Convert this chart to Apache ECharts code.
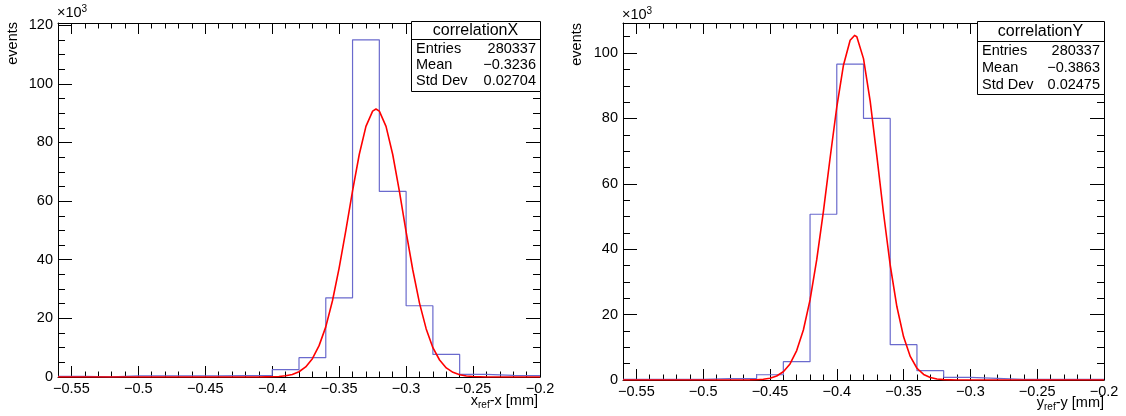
<!DOCTYPE html>
<html>
<head>
<meta charset="utf-8">
<script src="https://cdn.jsdelivr.net/npm/echarts@6/dist/echarts.min.js"></script>
<style>
html,body{margin:0;padding:0;background:#fff;}
#c{width:1126px;height:416px;}
</style>
</head>
<body>
<div id="c"></div>
<script>
// ---- data (counts in units of 10^3 events) ----
const binEdges = [-0.56,-0.54,-0.52,-0.50,-0.48,-0.46,-0.44,-0.42,-0.40,-0.38,-0.36,-0.34,-0.32,-0.30,-0.28,-0.26,-0.24,-0.22,-0.20];
const countsX = [0.2,0.05,0.35,0.35,0.35,0.35,0.45,0.5,2.5,6.6,27.0,115.0,63.3,24.3,7.7,0.9,0.57,0.5];
const countsY = [0.2,0.2,0.2,0.4,0.4,1.6,5.6,50.7,96.6,80.0,10.8,2.85,0.8,0.5,0.2,0.2,0.2,0.2];

// fitted curves
const fitXx = [-0.56,-0.41,-0.405,-0.40,-0.395,-0.39,-0.385,-0.38,-0.375,-0.37,-0.365,-0.36,-0.355,-0.35,-0.345,-0.34,-0.335,-0.33,-0.325,-0.3225,-0.32,-0.315,-0.31,-0.305,-0.30,-0.295,-0.29,-0.285,-0.28,-0.275,-0.27,-0.265,-0.26,-0.255,-0.25,-0.245,-0.24,-0.235,-0.20];
const fitXy = [0,0.01,0.03,0.07,0.18,0.40,0.88,1.79,3.44,6.24,10.7,17.1,26.0,37.2,50.0,63.5,75.9,85.5,90.7,91.4,90.7,85.5,75.9,63.3,49.5,36.5,25.2,16.4,10.0,5.8,3.1,1.6,0.78,0.35,0.15,0.06,0.02,0.01,0];
const fitYx = [-0.56,-0.465,-0.46,-0.455,-0.45,-0.445,-0.44,-0.435,-0.43,-0.425,-0.42,-0.415,-0.41,-0.405,-0.40,-0.395,-0.39,-0.3867,-0.385,-0.38,-0.375,-0.37,-0.365,-0.36,-0.355,-0.35,-0.345,-0.34,-0.335,-0.33,-0.325,-0.32,-0.315,-0.31,-0.20];
const fitYy = [0,0.03,0.09,0.23,0.54,1.21,2.51,4.9,9.0,15.3,24.5,36.8,51.6,67.9,83.5,96.3,103.9,105.4,105.0,98.3,85.3,68.5,51.0,35.1,22.4,13.2,7.2,3.6,1.7,0.74,0.30,0.11,0.04,0.01,0];

const xMajorTicks = [-0.55,-0.50,-0.45,-0.40,-0.35,-0.30,-0.25,-0.20];
const xMinorTicks = [-0.56,-0.55,-0.54,-0.53,-0.52,-0.51,-0.50,-0.49,-0.48,-0.47,-0.46,-0.45,-0.44,-0.43,-0.42,-0.41,-0.40,-0.39,-0.38,-0.37,-0.36,-0.35,-0.34,-0.33,-0.32,-0.31,-0.30,-0.29,-0.28,-0.27,-0.26,-0.25,-0.24,-0.23,-0.22,-0.21,-0.20];
const yMajorTicksX = [0,20,40,60,80,100,120];
const yMinorTicksX = [0,5,10,15,20,25,30,35,40,45,50,55,60,65,70,75,80,85,90,95,100,105,110,115,120];
const yMajorTicksY = [0,20,40,60,80,100];
const yMinorTicksY = [0,5,10,15,20,25,30,35,40,45,50,55,60,65,70,75,80,85,90,95,100,105];
const yMaxX = 120.75;
const yMaxY = 109.2;

const statsX = {title:'correlationX', rows:[['Entries','280337'],['Mean','\u22120.3236'],['Std Dev','0.02704']]};
const statsY = {title:'correlationY', rows:[['Entries','280337'],['Mean','\u22120.3863'],['Std Dev','0.02475']]};

// ---- build ----
const FONT = '"Liberation Sans", Arial, Helvetica, sans-serif';
const BLACK = '#000';
function fmtX(v){ return String(Math.round(v*100)/100).replace('-', '\u2212'); }
function histData(edges, counts){
  const d = [];
  for (let i = 0; i < counts.length; i++) d.push([edges[i], counts[i]]);
  d.push([edges[edges.length-1], counts[counts.length-1]]);
  return d;
}
function zip(a,b){ return a.map((v,i)=>[v,b[i]]); }

const grids = [
  {left:58, top:23, width:482, height:354},
  {left:623, top:23, width:481, height:357}
];
const yMajors = [yMajorTicksX, yMajorTicksY];
const yMinors = [yMinorTicksX, yMinorTicksY];
const yMaxs = [yMaxX, yMaxY];

const xAxes = [], yAxes = [];
grids.forEach((g, gi) => {
  const base = {gridIndex:gi, type:'value', min:-0.56, max:-0.2, splitLine:{show:false}};
  xAxes.push(Object.assign({}, base, {position:'bottom',
    axisLine:{show:true, onZero:false, lineStyle:{color:BLACK, width:1}},
    axisTick:{show:true, inside:true, length:11, customValues:xMajorTicks, lineStyle:{color:BLACK}},
    axisLabel:{show:true, customValues:xMajorTicks, formatter:fmtX, color:BLACK, fontSize:14.5, fontFamily:FONT, margin:4}}));
  xAxes.push(Object.assign({}, base, {position:'bottom',
    axisLine:{show:false, onZero:false},
    axisTick:{show:true, inside:true, length:5.5, customValues:xMinorTicks, lineStyle:{color:BLACK}},
    axisLabel:{show:false}}));
  xAxes.push(Object.assign({}, base, {position:'top',
    axisLine:{show:true, onZero:false, lineStyle:{color:BLACK, width:1}},
    axisTick:{show:true, inside:true, length:11, customValues:xMajorTicks, lineStyle:{color:BLACK}},
    axisLabel:{show:false}}));
  xAxes.push(Object.assign({}, base, {position:'top',
    axisLine:{show:false, onZero:false},
    axisTick:{show:true, inside:true, length:5.5, customValues:xMinorTicks, lineStyle:{color:BLACK}},
    axisLabel:{show:false}}));

  const yb = {gridIndex:gi, type:'value', min:0, max:yMaxs[gi], splitLine:{show:false}};
  yAxes.push(Object.assign({}, yb, {position:'left',
    axisLine:{show:true, onZero:false, lineStyle:{color:BLACK, width:1}},
    axisTick:{show:true, inside:true, length:14, customValues:yMajors[gi], lineStyle:{color:BLACK}},
    axisLabel:{show:true, customValues:yMajors[gi], color:BLACK, fontSize:14.5, fontFamily:FONT, margin:5}}));
  yAxes.push(Object.assign({}, yb, {position:'left',
    axisLine:{show:false, onZero:false},
    axisTick:{show:true, inside:true, length:7, customValues:yMinors[gi], lineStyle:{color:BLACK}},
    axisLabel:{show:false}}));
  yAxes.push(Object.assign({}, yb, {position:'right',
    axisLine:{show:true, onZero:false, lineStyle:{color:BLACK, width:1}},
    axisTick:{show:true, inside:true, length:14, customValues:yMajors[gi], lineStyle:{color:BLACK}},
    axisLabel:{show:false}}));
  yAxes.push(Object.assign({}, yb, {position:'right',
    axisLine:{show:false, onZero:false},
    axisTick:{show:true, inside:true, length:7, customValues:yMinors[gi], lineStyle:{color:BLACK}},
    axisLabel:{show:false}}));
});

const series = [
  {type:'line', xAxisIndex:0, yAxisIndex:0, step:'end', symbol:'none', data:histData(binEdges, countsX),
   lineStyle:{color:'#6a6acd', width:1.2}, silent:true, z:2},
  {type:'line', xAxisIndex:0, yAxisIndex:0, smooth:false, symbol:'none', data:zip(fitXx, fitXy),
   lineStyle:{color:'#ff0000', width:1.6, join:'round'}, silent:true, z:3},
  {type:'line', xAxisIndex:4, yAxisIndex:4, step:'end', symbol:'none', data:histData(binEdges, countsY),
   lineStyle:{color:'#6a6acd', width:1.2}, silent:true, z:2},
  {type:'line', xAxisIndex:4, yAxisIndex:4, smooth:false, symbol:'none', data:zip(fitYx, fitYy),
   lineStyle:{color:'#ff0000', width:1.6, join:'round'}, silent:true, z:3}
];

function statsBox(st, x0, x1, y0, ySep, y1, titleY, rowYs){
  const els = [];
  els.push({type:'rect', shape:{x:x0+0.5, y:y0+0.5, width:x1-x0, height:y1-y0}, style:{fill:'#fff', stroke:BLACK, lineWidth:1}, z:10});
  els.push({type:'line', shape:{x1:x0, y1:ySep+0.5, x2:x1, y2:ySep+0.5}, style:{stroke:BLACK, lineWidth:1}, z:11});
  els.push({type:'text', x:(x0+x1)/2, y:titleY, style:{text:st.title, fill:BLACK, font:'16px '+FONT, align:'center', verticalAlign:'middle'}, z:12});
  st.rows.forEach((r, i) => {
    els.push({type:'text', x:x0+5, y:rowYs[i], style:{text:r[0], fill:BLACK, font:'14.5px '+FONT, align:'left', verticalAlign:'middle'}, z:12});
    els.push({type:'text', x:x1-4, y:rowYs[i], style:{text:r[1], fill:BLACK, font:'14.5px '+FONT, align:'right', verticalAlign:'middle'}, z:12});
  });
  return els;
}

const sub = {fontSize:10, fontFamily:FONT, fill:BLACK, padding:[8,0,0,0]};
const sup = {fontSize:10, fontFamily:FONT, fill:BLACK, padding:[0,0,8,0]};
const txt = {fontSize:14.5, fontFamily:FONT, fill:BLACK};

const graphic = [].concat(
  statsBox(statsX, 411, 540, 21, 39, 91, 30.5, [48.5, 65, 81]),
  statsBox(statsY, 977, 1104, 21, 41, 94, 32, [50.5, 67.5, 85]),
  [
    {type:'text', x:13, y:22, rotation:Math.PI/2, style:{text:'events', fill:BLACK, font:'14.5px '+FONT, align:'right', verticalAlign:'middle'}},
    {type:'text', x:577, y:23, rotation:Math.PI/2, style:{text:'events', fill:BLACK, font:'14.5px '+FONT, align:'right', verticalAlign:'middle'}},
    {type:'text', x:57, y:13, style:{text:'{t|\u00d710}{s|3}', rich:{t:txt, s:sup}, align:'left', verticalAlign:'middle'}},
    {type:'text', x:622, y:15, style:{text:'{t|\u00d710}{s|3}', rich:{t:txt, s:sup}, align:'left', verticalAlign:'middle'}},
    {type:'text', x:538, y:401, style:{text:'{t|x}{s|ref}{t|-x [mm]}', rich:{t:txt, s:sub}, align:'right', verticalAlign:'middle'}},
    {type:'text', x:1104, y:403, style:{text:'{t|y}{s|ref}{t|-y [mm]}', rich:{t:txt, s:sub}, align:'right', verticalAlign:'middle'}}
  ]
);

const chart = echarts.init(document.getElementById('c'), null, {renderer:'canvas'});
chart.setOption({
  animation:false,
  backgroundColor:'#fff',
  textStyle:{fontFamily:FONT},
  grid:grids.map(g => Object.assign({containLabel:false}, g)),
  xAxis:xAxes,
  yAxis:yAxes,
  series:series,
  graphic:graphic
});
</script>
</body>
</html>
